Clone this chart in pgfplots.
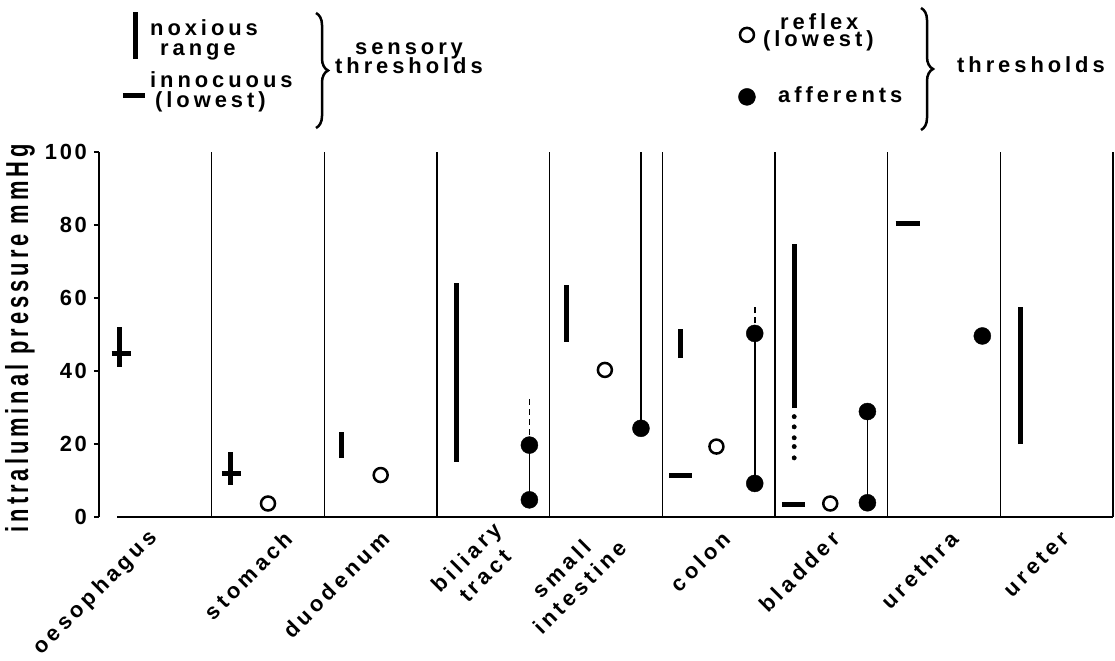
\documentclass[border=0pt]{standalone}
\usepackage{fontspec}
\usepackage{graphicx}
\usepackage{pgfplots}
\pgfplotsset{compat=1.18}
\usetikzlibrary{decorations.pathreplacing}
\newfontfamily\labfam[LetterSpace=18]{Liberation Sans Bold}
\newfontfamily\tickfam[LetterSpace=12]{Liberation Sans Bold}
\newcommand\lf{\labfam\fontsize{22}{26}\selectfont}
\newcommand\tf{\tickfam\fontsize{22}{26}\selectfont}
\begin{document}
\begin{tikzpicture}
\useasboundingbox (0,0) rectangle (1115bp,-661bp);
\begin{axis}[
  at={(99bp,-517bp)}, anchor=origin,
  x=112.67bp, y=3.65bp,
  xmin=0, xmax=9, ymin=0, ymax=100,
  clip=false,
  axis x line*=bottom, axis y line*=left,
  x axis line style={draw=none},
  y axis line style={line width=2.5bp,-},
  every outer y axis line/.append style={-},
  every outer x axis line/.append style={-},
  ytick={0,20,40,60,80,100},
  yticklabels={0,20,40,60,80,100},
  tick align=outside,
  ytick pos=left,
  major tick length=5bp,
  ytick style={line width=2bp, black},
  xtick={0.515,1.713,2.569,3.648,4.597,5.600,6.568,7.624,8.604},
  xticklabels={oesophagus,stomach,duodenum,{biliary\\tract},{small\\intestine},colon,bladder,urethra,ureter},
  xtick style={draw=none},
  xticklabel style={yshift=-13bp, xshift=-3bp, font=\lf, rotate=45, anchor=east, inner sep=0pt, align=center},
  yticklabel style={xshift=-7bp, font=\tf, anchor=east, inner sep=0pt},
  ylabel={\scalebox{1}[1.45]{intraluminal pressure mmHg}},
  ylabel style={font=\lf, at={(axis description cs:-0.078,0.49)}, anchor=center},
]
% separators
\addplot[ycomb, black, line width=1.5bp, mark=none] coordinates {(1,100)(2,100)(3,100)(4,100)(5,100)(6,100)(7,100)(8,100)(9,100)};
% baseline
\addplot[black, line width=2.5bp, mark=none] coordinates {(0.16,0)(9,0)};

% noxious ranges (thick bars)
\addplot[black, line width=5bp, mark=none] coordinates {(0.178,41.2)(0.178,52.1)};
\addplot[black, line width=5bp, mark=none] coordinates {(1.163,8.8)(1.163,17.9)};
\addplot[black, line width=5bp, mark=none] coordinates {(2.154,16.1)(2.154,23.4)};
\addplot[black, line width=5bp, mark=none] coordinates {(3.17,15.2)(3.17,64.0)};
\addplot[black, line width=5bp, mark=none] coordinates {(4.15,48.0)(4.15,63.6)};
\addplot[black, line width=5bp, mark=none] coordinates {(5.16,43.5)(5.16,51.4)};
\addplot[black, line width=5bp, mark=none] coordinates {(6.17,29.8)(6.17,74.8)};
\addplot[black, only marks, mark=*, mark size=2.2bp] coordinates {(6.17,27.5)(6.17,24.7)(6.17,21.7)(6.17,19.3)(6.17,16.2)};
\addplot[black, line width=5bp, mark=none] coordinates {(8.18,20.0)(8.18,57.6)};

% innocuous (lowest)
\addplot[black, line width=5bp, mark=none] coordinates {(0.113,44.8)(0.281,44.8)};
\addplot[black, line width=5bp, mark=none] coordinates {(1.09,12.0)(1.26,12.0)};
\addplot[black, line width=5bp, mark=none] coordinates {(5.06,11.5)(5.26,11.5)};
\addplot[black, line width=5bp, mark=none] coordinates {(6.06,3.5)(6.27,3.5)};
\addplot[black, line width=5bp, mark=none] coordinates {(7.07,80.3)(7.29,80.3)};

% reflex (lowest) open circles
\addplot[black, only marks, mark=o, mark size=7bp, line width=2.5bp] coordinates {(1.50,3.7)(2.50,11.5)(4.49,40.3)(5.48,19.3)(6.49,3.7)};

% afferent ranges
\addplot[black, line width=1.8bp, mark=none] coordinates {(3.82,4.7)(3.82,19.7)};
\addplot[black, line width=1.8bp, mark=none, dash pattern=on 6bp off 4bp] coordinates {(3.82,19.7)(3.82,32.2)};
\addplot[black, line width=1.8bp, mark=none] coordinates {(4.81,24.3)(4.81,100)};
\addplot[black, line width=1.8bp, mark=none] coordinates {(5.82,9.2)(5.82,50.3)};
\addplot[black, line width=1.8bp, mark=none, dash pattern=on 6bp off 4bp] coordinates {(5.82,50.3)(5.82,57.6)};
\addplot[black, line width=1.8bp, mark=none] coordinates {(6.82,3.9)(6.82,28.9)};
% afferent thresholds (filled)
\addplot[black, only marks, mark=*, mark size=8.5bp] coordinates {(3.82,4.7)(3.82,19.7)(4.81,24.3)(5.82,9.2)(5.82,50.3)(6.82,3.9)(6.82,28.9)(7.84,49.6)};

% legend symbols
\addplot[black, line width=5bp, mark=none] coordinates {(0.328,125.5)(0.328,138.4)};
\addplot[black, line width=5bp, mark=none] coordinates {(0.213,115.6)(0.408,115.6)};
\addplot[black, only marks, mark=o, mark size=7bp, line width=2.5bp] coordinates {(5.751,132.1)};
\addplot[black, only marks, mark=*, mark size=8.5bp] coordinates {(5.751,115.1)};
\end{axis}

% legend text
\node[font=\lf, anchor=base west, inner sep=0pt] at (150bp,-35bp) {noxious};
\node[font=\lf, anchor=base west, inner sep=0pt] at (160bp,-55bp) {range};
\node[font=\lf, anchor=base west, inner sep=0pt] at (150bp,-87bp) {innocuous};
\node[font=\lf, anchor=base west, inner sep=0pt] at (155bp,-107bp) {(lowest)};
\draw[black, line width=2.5bp, decorate, decoration={brace, amplitude=12bp}] (316bp,-13bp) -- (316bp,-128bp);
\node[font=\lf, anchor=base west, inner sep=0pt] at (355bp,-54bp) {sensory};
\node[font=\lf, anchor=base west, inner sep=0pt] at (335bp,-73bp) {thresholds};

\node[font=\lf, anchor=base west, inner sep=0pt] at (780bp,-29bp) {reflex};
\node[font=\lf, anchor=base west, inner sep=0pt] at (763bp,-46bp) {(lowest)};
\node[font=\lf, anchor=base west, inner sep=0pt] at (778bp,-102bp) {afferents};
\draw[black, line width=2.5bp, decorate, decoration={brace, amplitude=12bp}] (921bp,-8bp) -- (921bp,-130bp);
\node[font=\lf, anchor=base west, inner sep=0pt] at (957bp,-72bp) {thresholds};
\end{tikzpicture}
\end{document}
